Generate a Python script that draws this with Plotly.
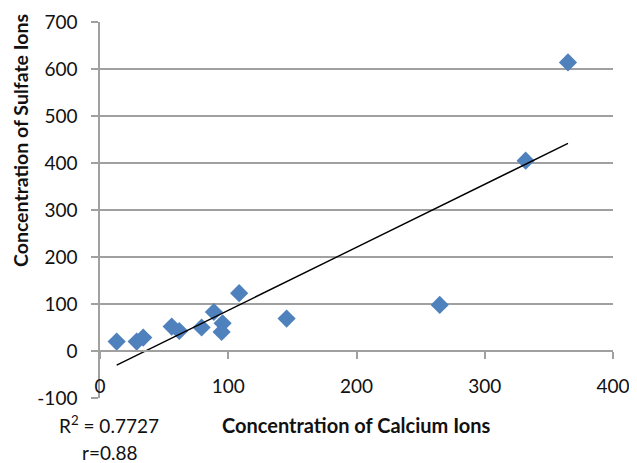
import numpy as np
import plotly.graph_objects as go

# Data
calcium = [13, 28.6, 33.7, 55.9, 61.8, 79.2, 88.8, 95.6, 94.8, 108.5, 145.5, 264.9, 331.9, 364.9]
sulfate = [20, 20, 28.5, 52, 42.6, 50, 83, 59, 40.5, 123, 69, 98, 405, 614]
x_ticks = [0, 100, 200, 300, 400]
x_tick_labels = ["0", "100", "200", "300", "400"]
y_ticks = [-100, 0, 100, 200, 300, 400, 500, 600, 700]
y_tick_labels = ["-100", "0", "100", "200", "300", "400", "500", "600", "700"]
r2_label = "R<sup>2</sup> = 0.7727"
r_label = "r=0.88"

xa = np.array(calcium)
ya = np.array(sulfate)
slope, intercept = np.polyfit(xa, ya, 1)
tx = np.array([xa.min(), xa.max()])
ty = slope * tx + intercept

FONT = "Lato"
GRID = "#a0a0a0"
TXT = "#111"

fig = go.Figure()
fig.add_trace(go.Scatter(
    x=calcium, y=sulfate, mode="markers",
    marker=dict(symbol="diamond", size=14, color="#4f81bd", line=dict(width=0)),
    showlegend=False, cliponaxis=False,
))
fig.add_trace(go.Scatter(
    x=tx, y=ty, mode="lines", line=dict(color="black", width=1.4),
    showlegend=False,
))

# page body has an 8px margin; figure is sized/offset to compensate
fig.update_layout(
    width=629, height=455,
    margin=dict(l=92, r=24, t=14, b=65, autoexpand=False),
    paper_bgcolor="white", plot_bgcolor="white",
    font=dict(family=FONT, size=19, color=TXT),
    xaxis=dict(
        range=[0, 400], tickvals=x_ticks, ticktext=x_tick_labels,
        showgrid=False, zeroline=False, automargin=False,
        showline=True, linecolor=GRID, linewidth=1.5,
        ticks="outside", ticklen=7, tickcolor=GRID, tickwidth=1.5,
        anchor="free", position=0.125, ticklabelstandoff=11,
        tickfont=dict(family=FONT, size=19, color=TXT),
    ),
    yaxis=dict(
        range=[-100, 700], tickvals=y_ticks, ticktext=y_tick_labels,
        showgrid=True, gridcolor=GRID, gridwidth=1.5, automargin=False,
        zeroline=False, showline=True, linecolor=GRID, linewidth=1.5,
        ticks="outside", ticklen=7, tickcolor=GRID, tickwidth=1.5,
        ticklabelstandoff=10,
        tickfont=dict(family=FONT, size=19, color=TXT),
    ),
    annotations=[
        dict(text="<b>Concentration of Calcium Ions</b>", xref="paper", yref="paper",
             x=0.5, y=0, yshift=-27, showarrow=False, xanchor="center", yanchor="middle",
             font=dict(family=FONT, size=20, color=TXT)),
        dict(text="<b>Concentration of Sulfate Ions</b>", xref="paper", yref="paper",
             x=0, xshift=-80, y=(398 - 141) / 376, showarrow=False,
             textangle=-90, xanchor="center", yanchor="middle",
             font=dict(family=FONT, size=19.5, color=TXT)),
        dict(text=r2_label, xref="paper", yref="paper", x=0, xshift=-43, y=0, yshift=-26,
             showarrow=False, xanchor="left", yanchor="middle",
             font=dict(family=FONT, size=19, color=TXT)),
        dict(text=r_label, xref="paper", yref="paper", x=0, xshift=-20, y=0, yshift=-54,
             showarrow=False, xanchor="left", yanchor="middle",
             font=dict(family=FONT, size=19, color=TXT)),
    ],
)

fig.write_html("out.html")
